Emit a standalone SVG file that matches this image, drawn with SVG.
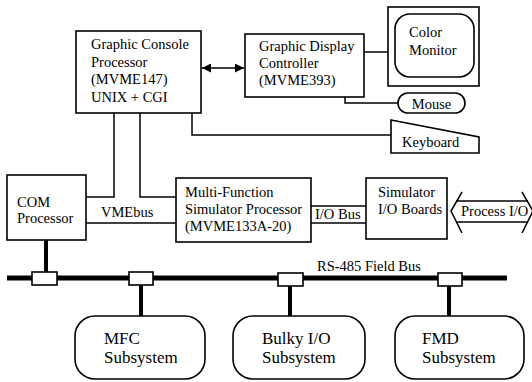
<svg xmlns="http://www.w3.org/2000/svg" width="532" height="382" viewBox="0 0 532 382" font-family="'Liberation Serif', 'Times New Roman', 'DejaVu Serif', serif" font-size="14.5">
<style>
  .box{fill:#fff;stroke:#000;stroke-width:1.6}
  .ln{fill:none;stroke:#000;stroke-width:1.5}
  .bus{fill:none;stroke:#000;stroke-width:5}
  .drop{fill:none;stroke:#000;stroke-width:4}
  .t{font-family:'Liberation Serif','Times New Roman',serif;fill:#000}
  .big{font-size:17px}
</style>
<defs>
  <marker id="ah" viewBox="0 0 10 10" refX="10" refY="5" markerWidth="9" markerHeight="9" markerUnits="userSpaceOnUse" orient="auto-start-reverse">
    <path d="M0,0 L10,5 L0,10 Z" fill="#000"/>
  </marker>
</defs>
<rect width="532" height="382" fill="#fff"/>

<g id="connectors">
  <line class="ln" x1="202" y1="68" x2="244" y2="68" marker-start="url(#ah)" marker-end="url(#ah)"/>
  <polyline class="ln" points="114,113 114,197 86,197"/>
  <polyline class="ln" points="140,113 140,197 176,197"/>
  <line class="ln" x1="86" y1="223" x2="176" y2="223"/>
  <polyline class="ln" points="192,113 192,135 391,135"/>
  <line class="ln" x1="364" y1="52" x2="388" y2="52"/>
  <polyline class="ln" points="345,97 345,103 398,103"/>
  <line class="ln" x1="311" y1="206" x2="366" y2="206"/>
  <line class="ln" x1="311" y1="223" x2="366" y2="223"/>
  <line class="bus" x1="7" y1="278" x2="507" y2="278"/>
  <line class="drop" x1="46" y1="240" x2="46" y2="273"/>
  <line class="drop" x1="141" y1="285" x2="141" y2="316"/>
  <line class="drop" x1="290" y1="286" x2="290" y2="316"/>
  <line class="drop" x1="449" y1="286" x2="449" y2="316"/>
  <rect class="box" x="32" y="272" width="25" height="13"/>
  <rect class="box" x="129" y="272" width="24" height="13"/>
  <rect class="box" x="278" y="273" width="25" height="13"/>
  <rect class="box" x="438" y="273" width="24" height="13"/>
  <text class="t" x="317" y="271">RS-485 Field Bus</text>
  <text class="t" x="101" y="217">VMEbus</text>
  <text class="t" x="315" y="219">I/O Bus</text>
</g>

<g id="gcp">
  <rect class="box" x="76" y="31" width="125" height="82"/>
  <text class="t" x="91" y="49">Graphic Console</text>
  <text class="t" x="91" y="66.5">Processor</text>
  <text class="t" x="91" y="84">(MVME147)</text>
  <text class="t" x="91" y="101.5">UNIX + CGI</text>
</g>

<g id="gdc">
  <rect class="box" x="245" y="34" width="119" height="63"/>
  <text class="t" x="259" y="51">Graphic Display</text>
  <text class="t" x="259" y="68">Controller</text>
  <text class="t" x="259" y="85">(MVME393)</text>
</g>

<g id="monitor">
  <rect class="box" x="388" y="7" width="91" height="79"/>
  <rect class="box" x="395" y="14" width="79" height="63" rx="15"/>
  <text class="t" x="409" y="37">Color</text>
  <text class="t" x="409" y="55">Monitor</text>
</g>

<g id="mouse">
  <rect class="box" x="398" y="93" width="67" height="20" rx="10"/>
  <text class="t" x="431.5" y="108.5" text-anchor="middle">Mouse</text>
</g>

<g id="keyboard">
  <polygon class="box" points="391,120 479,137 479,153 391,153"/>
  <text class="t" x="402" y="147">Keyboard</text>
</g>

<g id="com">
  <rect class="box" x="7" y="175" width="79" height="65"/>
  <text class="t" x="17" y="207">COM</text>
  <text class="t" x="17" y="223">Processor</text>
</g>

<g id="mfsp">
  <rect class="box" x="176" y="178" width="135" height="64"/>
  <text class="t" x="185" y="196.5">Multi-Function</text>
  <text class="t" x="185" y="213.5">Simulator Processor</text>
  <text class="t" x="185" y="230.5">(MVME133A-20)</text>
</g>

<g id="siob">
  <rect class="box" x="366" y="178" width="81" height="61"/>
  <text class="t" x="378" y="197">Simulator</text>
  <text class="t" x="378" y="214">I/O Boards</text>
</g>

<g id="processio">
  <polyline class="ln" points="462,192 451,211 462,233"/>
  <polyline class="ln" points="522,192 533,211 522,233"/>
  <line class="ln" x1="456" y1="201" x2="528" y2="201"/>
  <line class="ln" x1="456" y1="222" x2="528" y2="222"/>
  <text class="t" x="461" y="216">Process I/O</text>
</g>

<g id="mfc">
  <rect class="box" x="75" y="316" width="130" height="63" rx="20"/>
  <text class="t big" x="104" y="344">MFC</text>
  <text class="t big" x="104" y="363">Subsystem</text>
</g>

<g id="bulky">
  <rect class="box" x="233" y="316" width="132" height="63" rx="20"/>
  <text class="t big" x="262" y="344">Bulky I/O</text>
  <text class="t big" x="262" y="363">Subsystem</text>
</g>

<g id="fmd">
  <rect class="box" x="395" y="316" width="129" height="63" rx="20"/>
  <text class="t big" x="422" y="344">FMD</text>
  <text class="t big" x="422" y="363">Subsystem</text>
</g>
</svg>
